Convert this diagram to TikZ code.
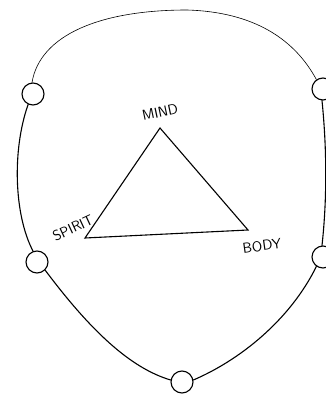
\documentclass[tikz,border=0pt]{standalone}

\begin{document}
\begin{tikzpicture}[x=1pt,y=-1pt,line width=1.1pt,line cap=round,
  ring/.style={draw,circle,minimum size=22pt,inner sep=0pt},
  word/.style={font=\sffamily\Large,inner sep=1pt}]
  \useasboundingbox (0,0) rectangle (326,401);
  \clip (0,0) rectangle (326,401);
  % rings on the loop
  \node[ring] (tl) at (33,94) {};
  \node[ring] (tr) at (323,89) {};
  \node[ring] (bl) at (37,262) {};
  \node[ring] (br) at (323,257) {};
  \node[ring] (bt) at (182,382) {};
  % loop segments
  \draw[line width=0.6pt] (tl.95) .. controls (40,35) and (100,10) .. (187,10)
    .. controls (255,12) and (295,40) .. (tr.125);
  \draw (tl.245) .. controls (12,150) and (14,215) .. (bl.110);
  \draw (tr.265) .. controls (327,150) and (327,200) .. (br.95);
  \draw (bl.-45) .. controls (90,330) and (130,368) .. (bt.170);
  \draw (bt.10) .. controls (240,360) and (290,320) .. (br.235);
  % triangle
  \coordinate (mind) at (160,128);
  \coordinate (body) at (248,230);
  \coordinate (spirit) at (85,238);
  \draw (spirit) -- (mind) -- (body) -- cycle;
  \node[word,rotate=12] (mindlbl) at (160,112) {MIND};
  \node[word,rotate=25] (spiritlbl) at (73,228) {SPIRIT};
  \node[word,rotate=8] (bodylbl) at (262,246) {BODY};
\end{tikzpicture}
\end{document}
